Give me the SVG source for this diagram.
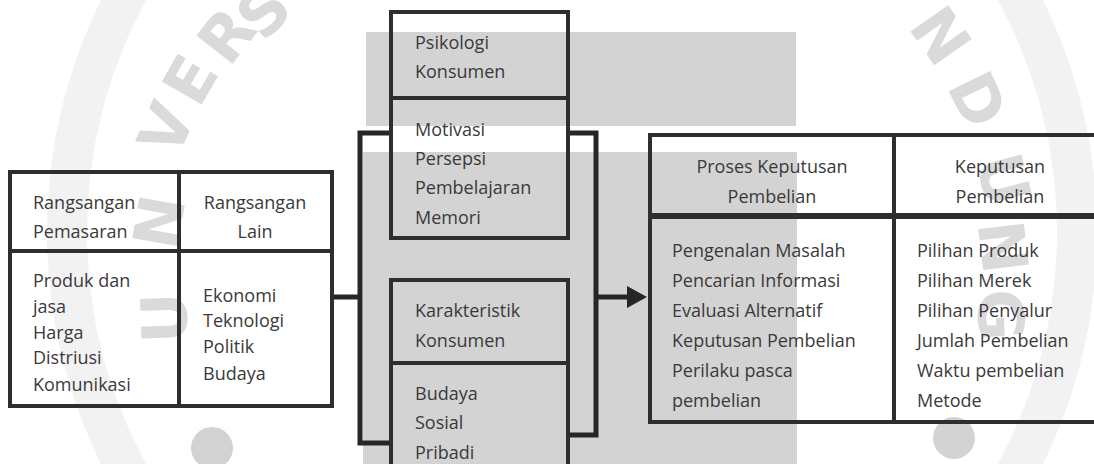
<svg xmlns="http://www.w3.org/2000/svg" width="1094" height="464" viewBox="0 0 1094 464">
<style>
.t{font-family:"Open Sans","Noto Sans",sans-serif;font-size:18px;fill:#3a3a3a}
.c{text-anchor:middle}
.box{fill:none;stroke:#2e2e2e;stroke-width:4}
.div{stroke:#2e2e2e;stroke-width:4}
.thick{stroke:#2e2e2e;stroke-width:6}
.wm{fill:#d3d3d3}
.wl{font-family:"DejaVu Sans",sans-serif;font-weight:bold;font-size:63px;fill:#dadada;text-anchor:middle;dominant-baseline:central}
.con{fill:none;stroke:#262626;stroke-width:5}
</style>
<defs>
<marker id="arrow" markerUnits="userSpaceOnUse" markerWidth="22" markerHeight="24" refX="5" refY="11" orient="auto">
<path d="M0,0 L20,11 L0,22 Z" fill="#262626"/>
</marker>
</defs>
<rect x="0" y="0" width="1094" height="464" fill="#ffffff"/>
<g id="watermark">
<circle cx="572" cy="232" r="505" fill="none" stroke="#f2f2f2" stroke-width="40"/>
<rect class="wm" x="366" y="32" width="430" height="94"/>
<rect class="wm" x="363" y="152" width="434" height="312"/>
<circle class="wm" cx="212" cy="448" r="21"/>
<circle class="wm" cx="954" cy="438" r="21"/>
<text class="wl" transform="translate(264,12) rotate(-46)">S</text>
<text class="wl" transform="translate(227,36) rotate(-52)">R</text>
<text class="wl" transform="translate(191,80) rotate(-60)">E</text>
<text class="wl" transform="translate(167,129) rotate(-67)">V</text>
<text class="wl" transform="translate(160,222) rotate(-80)">N</text>
<text class="wl" transform="translate(165,318) rotate(-92)">U</text>
<text class="wl" transform="translate(940,36) rotate(55)">N</text>
<text class="wl" transform="translate(977,100) rotate(64)">D</text>
<text class="wl" transform="translate(1003,180) rotate(75)">U</text>
<text class="wl" transform="translate(1002,247) rotate(83)">N</text>
<text class="wl" transform="translate(1000,315) rotate(88)">G</text>
</g>
<g id="connectors">
<path class="con" d="M332,297 H360"/>
<path class="con" d="M391,133 H360 V443 H391"/>
<path class="con" d="M568,133 H596 V435 H568"/>
<path class="con" d="M596,297 H632" marker-end="url(#arrow)"/>
</g>
<g id="rangsangan-pemasaran">
<rect class="box" x="10" y="172" width="169" height="234"/>
<line class="div" x1="10" y1="251" x2="179" y2="251"/>
<text class="t" x="33" y="209">Rangsangan</text>
<text class="t" x="33" y="238">Pemasaran</text>
<text class="t" x="33" y="287">Produk dan</text>
<text class="t" x="33" y="313">jasa</text>
<text class="t" x="33" y="339">Harga</text>
<text class="t" x="33" y="364">Distriusi</text>
<text class="t" x="33" y="391">Komunikasi</text>
</g>
<g id="rangsangan-lain">
<rect class="box" x="179" y="172" width="153" height="234"/>
<line class="div" x1="179" y1="251" x2="332" y2="251"/>
<text class="t c" x="255" y="209">Rangsangan</text>
<text class="t c" x="255" y="238">Lain</text>
<text class="t" x="203" y="302">Ekonomi</text>
<text class="t" x="203" y="327">Teknologi</text>
<text class="t" x="203" y="353">Politik</text>
<text class="t" x="203" y="380">Budaya</text>
</g>
<g id="psikologi-konsumen">
<rect class="box" x="391" y="12" width="177" height="226"/>
<line class="div" x1="391" y1="98" x2="568" y2="98"/>
<text class="t" x="415" y="49">Psikologi</text>
<text class="t" x="415" y="78">Konsumen</text>
<text class="t" x="415" y="136">Motivasi</text>
<text class="t" x="415" y="165">Persepsi</text>
<text class="t" x="415" y="194">Pembelajaran</text>
<text class="t" x="415" y="224">Memori</text>
</g>
<g id="karakteristik-konsumen">
<rect class="box" x="391" y="280" width="177" height="200"/>
<line class="div" x1="391" y1="363" x2="568" y2="363"/>
<text class="t" x="415" y="317">Karakteristik</text>
<text class="t" x="415" y="347">Konsumen</text>
<text class="t" x="415" y="400">Budaya</text>
<text class="t" x="415" y="429">Sosial</text>
<text class="t" x="415" y="459">Pribadi</text>
</g>
<g id="proses-keputusan">
<rect class="box" x="650" y="135" width="244" height="287"/>
<line class="thick" x1="650" y1="216" x2="894" y2="216"/>
<text class="t c" x="772" y="173">Proses Keputusan</text>
<text class="t c" x="772" y="203">Pembelian</text>
<text class="t" x="672" y="257">Pengenalan Masalah</text>
<text class="t" x="672" y="287">Pencarian Informasi</text>
<text class="t" x="672" y="317">Evaluasi Alternatif</text>
<text class="t" x="672" y="347">Keputusan Pembelian</text>
<text class="t" x="672" y="377">Perilaku pasca</text>
<text class="t" x="672" y="407">pembelian</text>
</g>
<g id="keputusan-pembelian">
<rect class="box" x="894" y="135" width="214" height="287"/>
<line class="thick" x1="894" y1="216" x2="1100" y2="216"/>
<text class="t c" x="1000" y="173">Keputusan</text>
<text class="t c" x="1000" y="203">Pembelian</text>
<text class="t" x="917" y="257">Pilihan Produk</text>
<text class="t" x="917" y="287">Pilihan Merek</text>
<text class="t" x="917" y="317">Pilihan Penyalur</text>
<text class="t" x="917" y="347">Jumlah Pembelian</text>
<text class="t" x="917" y="377">Waktu pembelian</text>
<text class="t" x="917" y="407">Metode</text>
</g>
</svg>
